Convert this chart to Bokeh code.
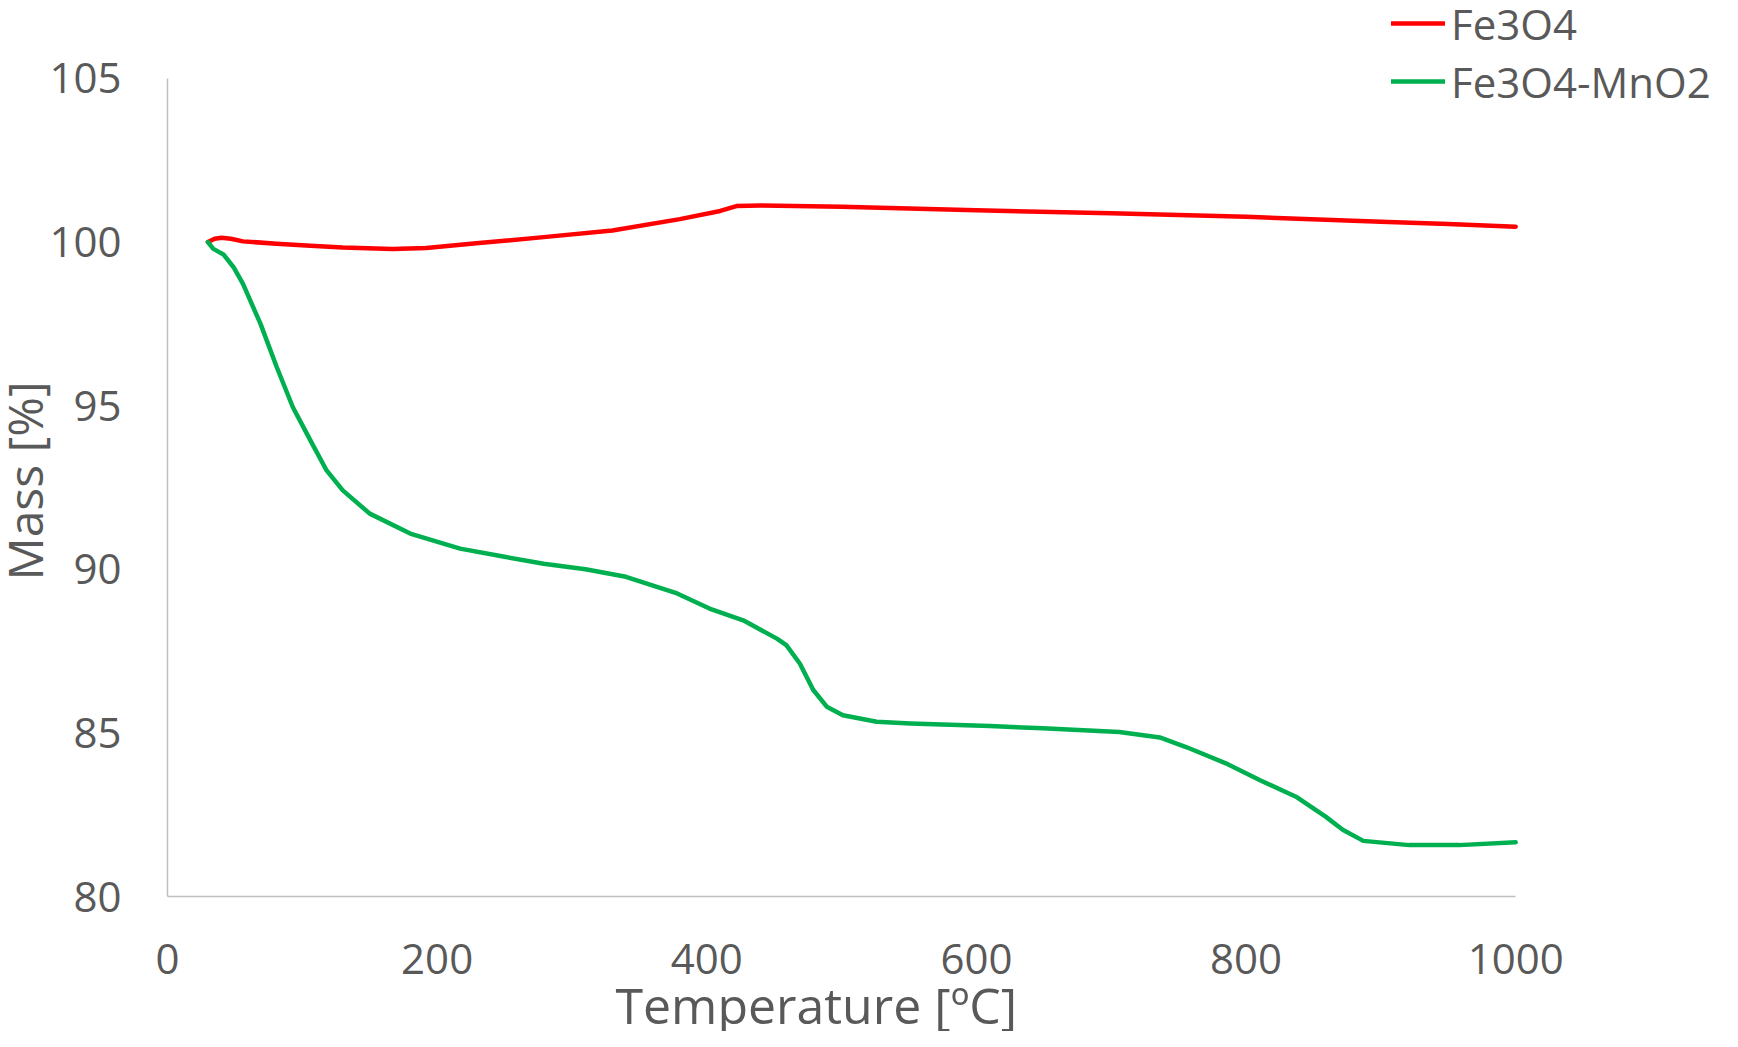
from bokeh.plotting import figure
from bokeh.models import Range1d, FixedTicker, Legend, LegendItem, Title
from bokeh.embed import file_html
from bokeh.resources import INLINE

# Fe3O4 TGA curve
t_fe3o4 = [30, 35, 40, 47, 56, 81, 106, 130, 167, 192, 229, 279, 330, 380, 410, 422, 440, 500, 600, 700, 800, 900, 950, 1000]
m_fe3o4 = [100.0, 100.1, 100.13, 100.1, 100.02, 99.95, 99.89, 99.83, 99.79, 99.82, 99.96, 100.15, 100.35, 100.7, 100.95, 101.1, 101.12, 101.08, 100.97, 100.88, 100.77, 100.62, 100.55, 100.47]

# Fe3O4-MnO2 TGA curve
t_mix = [30, 34, 41.5, 49, 56, 69, 81, 93, 106, 118, 130, 150, 180, 217, 250, 279, 310, 340, 378, 402, 427, 452, 459, 469, 479, 489, 501, 526, 551, 610, 649, 706, 736, 756, 785, 810, 837, 859, 872, 887, 921, 958, 1000]
m_mix = [100.0, 99.79, 99.62, 99.23, 98.72, 97.5, 96.18, 94.95, 93.94, 93.02, 92.41, 91.70, 91.09, 90.63, 90.38, 90.17, 90.0, 89.77, 89.26, 88.80, 88.44, 87.88, 87.68, 87.12, 86.31, 85.80, 85.54, 85.34, 85.29, 85.21, 85.14, 85.03, 84.86, 84.56, 84.07, 83.56, 83.05, 82.44, 82.03, 81.70, 81.57, 81.57, 81.66]

x_ticks = [0, 200, 400, 600, 800, 1000]
y_ticks = [80, 85, 90, 95, 100, 105]
x_axis_bounds = (0, 1000)
y_axis_bounds = (80, 105)
x_title = "Temperature [ºC]"
y_title = "Mass [%]"

FONT = "Open Sans"
TXT = "#595959"
AX = "#BFBFBF"

p = figure(width=1722, height=1031, output_backend="svg", toolbar_location=None,
           x_range=Range1d(0, 1153.4), y_range=Range1d(80, 107.381),
           min_border_left=166, min_border_top=0, min_border_right=0, min_border_bottom=134)
p.outline_line_color = None
p.xgrid.visible = False
p.ygrid.visible = False

r1 = p.line(t_fe3o4, m_fe3o4, line_color="#FF0000", line_width=4.5, line_join="round", line_cap="round")
r2 = p.line(t_mix, m_mix, line_color="#00B050", line_width=4.5, line_join="round", line_cap="round")

for ax in (p.xaxis[0], p.yaxis[0]):
    ax.axis_line_color = AX
    ax.axis_line_width = 1.5
    ax.major_tick_line_color = None
    ax.minor_tick_line_color = None
    ax.major_tick_out = 0
    ax.major_tick_in = 0
    ax.minor_tick_out = 0
    ax.minor_tick_in = 0
    ax.major_label_text_font = FONT
    ax.major_label_text_font_size = "42px"
    ax.major_label_text_color = TXT

p.xaxis.bounds = x_axis_bounds
p.yaxis.bounds = y_axis_bounds
p.xaxis.ticker = FixedTicker(ticks=x_ticks)
p.yaxis.ticker = FixedTicker(ticks=y_ticks)
p.xaxis.major_label_standoff = 47
p.yaxis.major_label_standoff = 46

# axis titles, positioned along the 0..1000 and 80..105 axis spans
xt = Title(text=x_title, align="left", offset=448, standoff=-15,
           text_font=FONT, text_font_size="50px", text_color=TXT,
           text_font_style="normal", text_line_height=1.0)
p.add_layout(xt, "below")

yt = Title(text=y_title, align="left", offset=316, standoff=-21,
           text_font=FONT, text_font_size="48px", text_color=TXT,
           text_font_style="normal", text_line_height=1.0)
p.add_layout(yt, "left")

legend = Legend(items=[LegendItem(label="Fe3O4", renderers=[r1]),
                       LegendItem(label="Fe3O4-MnO2", renderers=[r2])],
                location=(1224, 786), orientation="vertical",
                label_text_font=FONT, label_text_font_size="42px", label_text_color=TXT,
                label_text_line_height=1.0,
                glyph_width=54, glyph_height=58, label_height=58, label_standoff=6,
                spacing=0, padding=0, margin=0, border_line_color=None,
                background_fill_alpha=0)
p.add_layout(legend, "center")

open("out.html", "w").write(file_html(p, INLINE))
